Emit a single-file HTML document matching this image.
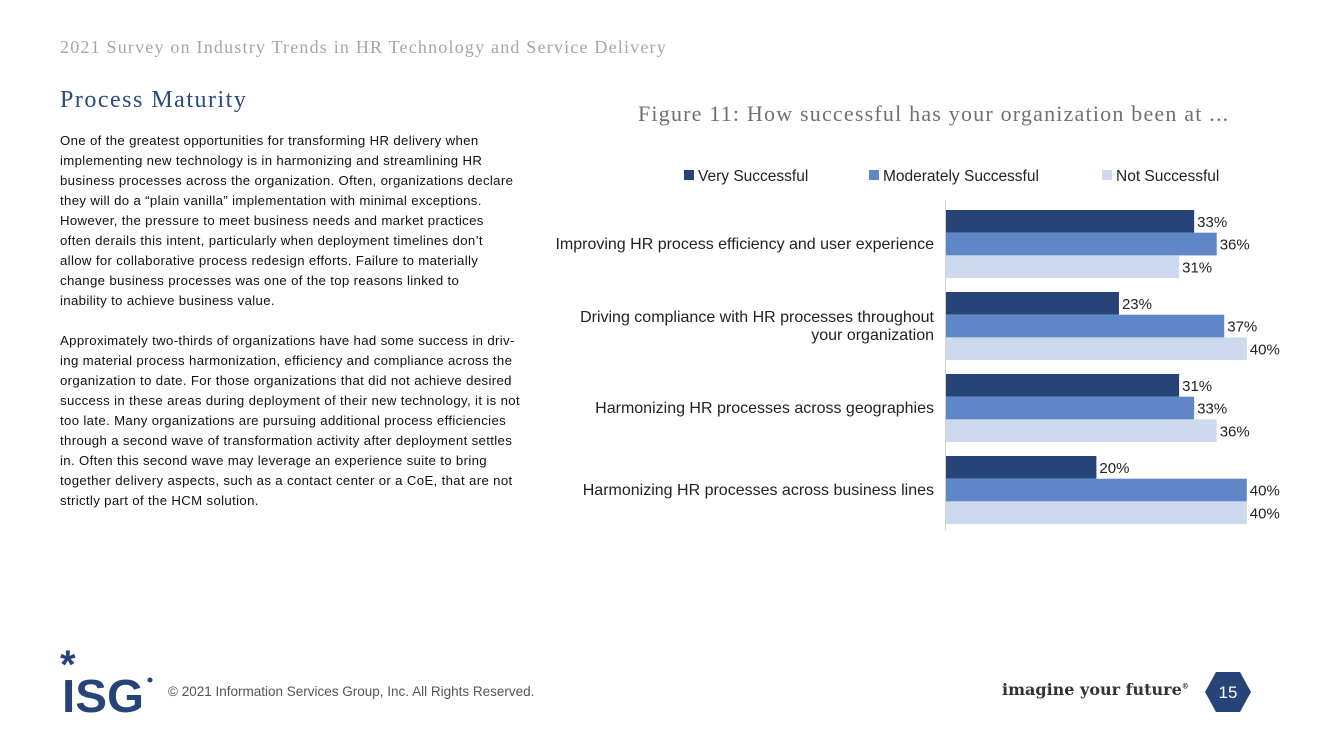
<!DOCTYPE html>
<html><head><meta charset="utf-8"><style>
body{margin:0;width:1320px;height:743px;background:#fff;position:relative;overflow:hidden;font-family:"Liberation Sans",sans-serif}
.abs{position:absolute}
.hdr{left:60px;top:37px;font-family:"Liberation Serif",serif;font-size:18px;letter-spacing:1.2px;color:#a6a6a6;white-space:nowrap}
.title{left:60px;top:87px;font-family:"Liberation Serif",serif;font-size:24px;letter-spacing:1.5px;color:#2b4a7e}
.body{left:60px;top:131px;font-size:13.2px;letter-spacing:0.35px;line-height:20px;color:#111;white-space:nowrap}
.body p{margin:0 0 20px 0}
.fig{left:638px;top:101px;font-family:"Liberation Serif",serif;font-size:22px;letter-spacing:1.2px;color:#707070;white-space:nowrap}
.foot{left:168px;top:684px;font-size:13.5px;color:#555;white-space:nowrap}
</style></head><body>
<div class="abs hdr">2021 Survey on Industry Trends in HR Technology and Service Delivery</div>
<div class="abs title">Process Maturity</div>
<div class="abs body">
<p>One of the greatest opportunities for transforming HR delivery when<br>implementing new technology is in harmonizing and streamlining HR<br>business processes across the organization. Often, organizations declare<br>they will do a “plain vanilla” implementation with minimal exceptions.<br>However, the pressure to meet business needs and market practices<br>often derails this intent, particularly when deployment timelines don’t<br>allow for collaborative process redesign efforts. Failure to materially<br>change business processes was one of the top reasons linked to<br>inability to achieve business value.</p>
<p>Approximately two-thirds of organizations have had some success in driv-<br>ing material process harmonization, efficiency and compliance across the<br>organization to date. For those organizations that did not achieve desired<br>success in these areas during deployment of their new technology, it is not<br>too late. Many organizations are pursuing additional process efficiencies<br>through a second wave of transformation activity after deployment settles<br>in. Often this second wave may leverage an experience suite to bring<br>together delivery aspects, such as a contact center or a CoE, that are not<br>strictly part of the HCM solution.</p>
</div>
<div class="abs fig">Figure 11: How successful has your organization been at ...</div>
<svg class="abs" style="left:0;top:0" width="1320" height="743">
<g id="legend"></g><g id="bars"></g><g id="labels"></g>
<line x1="945.5" y1="200" x2="945.5" y2="530" stroke="#d0d0d0"/>
</svg>
<svg class="abs" style="left:60px;top:648px" width="95" height="66">
<text x="0" y="30" font-family="Liberation Sans" font-weight="bold" font-size="40" fill="#264478">*</text>
<text x="2" y="64" font-family="Liberation Sans" font-weight="bold" font-size="46" fill="#264478" textLength="82" lengthAdjust="spacingAndGlyphs">ISG</text>
<circle cx="90" cy="32" r="2.5" fill="#264478"/>
</svg>
<div class="abs foot">© 2021 Information Services Group, Inc. All Rights Reserved.</div>
<div class="abs" style="left:1002px;top:680px;font-family:'DejaVu Serif',serif;font-size:16px;color:#333;font-weight:bold">imagine your future<sup style="font-size:7px">®</sup></div>
<svg class="abs" style="left:1204px;top:670px" width="48" height="44">
<polygon points="12,2 36,2 47,22 36,42 12,42 1,22" fill="#264478"/>
<text x="24" y="28" text-anchor="middle" font-family="Liberation Sans" font-size="17" fill="#fff">15</text>
</svg>
<script>
const categories=["Improving HR process efficiency and user experience","Driving compliance with HR processes throughout|your organization","Harmonizing HR processes across geographies","Harmonizing HR processes across business lines"];
const seriesNames=["Very Successful","Moderately Successful","Not Successful"];
const verySuccessful=[33,23,31,20];
const moderatelySuccessful=[36,37,33,40];
const notSuccessful=[31,40,36,40];
const colors=["#264478","#5f87c8","#cdd9ee"];
const ns="http://www.w3.org/2000/svg";
const x0=946,pxPer=7.52,top0=210,groupPitch=82,barH=22.7;
const xs=v=>x0+v*pxPer;
const series=[verySuccessful,moderatelySuccessful,notSuccessful];
const gB=document.getElementById('bars'),gL=document.getElementById('labels'),gLeg=document.getElementById('legend');
function mk(t,a){const e=document.createElementNS(ns,t);for(const k in a)e.setAttribute(k,a[k]);return e;}
const legX=[684,869,1102];
seriesNames.forEach((n,i)=>{
 const r=mk('rect',{x:legX[i],y:170,width:10,height:10,fill:colors[i]});
 
 
 gLeg.appendChild(r);
 const t=mk('text',{x:legX[i]+14,y:181,'font-size':15.5,fill:'#222','font-family':'Liberation Sans'});
 t.textContent=n;
 
 
 gLeg.appendChild(t);
});
categories.forEach((c,ci)=>{
 const gy=top0+ci*groupPitch;
 series.forEach((s,si)=>{
  const y=gy+si*barH;
  const r=mk('rect',{x:x0,y:y,width:xs(s[ci])-x0,height:barH,fill:colors[si]});
  
  
  gB.appendChild(r);
  const t=mk('text',{x:xs(s[ci])+3,y:y+17,'font-size':15,fill:'#222','font-family':'Liberation Sans'});
  t.textContent=s[ci]+'%';
  
  
  gL.appendChild(t);
 });
 const lines=c.split('|');
 const cy=gy+barH*1.5+5-(lines.length-1)*9;
 lines.forEach((ln,li)=>{
  const t=mk('text',{x:934,y:cy+li*18,'text-anchor':'end','font-size':16,fill:'#222','font-family':'Liberation Sans'});
  t.textContent=ln;
  
  
  gL.appendChild(t);
 });
});
</script>
</body></html>
